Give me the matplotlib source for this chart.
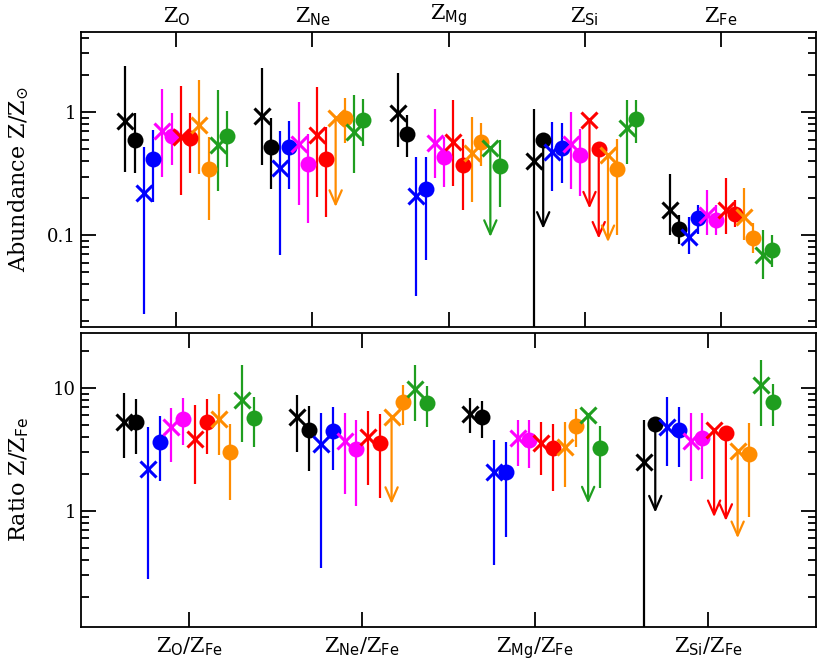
import numpy as np
import matplotlib
matplotlib.use('Agg')
import matplotlib.pyplot as plt

plt.rcParams['font.family'] = 'DejaVu Serif'
plt.rcParams['mathtext.fontset'] = 'dejavuserif'

# series order inside each group: x marker, then circle, per colour
colors = ['black', 'black', '#0000ff', '#0000ff', '#ff00ff', '#ff00ff',
          '#ff0000', '#ff0000', '#ff8c00', '#ff8c00', '#1f9e1f', '#1f9e1f']
markers = ['x', 'o'] * 6

# Abundances Z/Zsun (top panel), one row per element
top_labels = [r'$\mathrm{Z}_{\mathsf{O}}$', r'$\mathrm{Z}_{\mathsf{Ne}}$', r'$\mathrm{Z}_{\mathsf{Mg}}$',
              r'$\mathrm{Z}_{\mathsf{Si}}$', r'$\mathrm{Z}_{\mathsf{Fe}}$']
abund = [
    [0.855, 0.60, 0.219, 0.419, 0.709, 0.645, 0.63, 0.614, 0.788, 0.343, 0.542, 0.645],
    [0.93, 0.525, 0.354, 0.522, 0.552, 0.377, 0.654, 0.414, 0.894, 0.905, 0.696, 0.866],
    [0.994, 0.666, 0.208, 0.237, 0.559, 0.435, 0.576, 0.37, 0.469, 0.569, 0.509, 0.368],
    [0.404, 0.595, 0.478, 0.515, 0.552, 0.449, 0.866, 0.50, 0.449, 0.343, 0.74, 0.882],
    [0.162, 0.113, 0.097, 0.139, 0.146, 0.133, 0.162, 0.15, 0.141, 0.096, 0.0697, 0.0755],
]
abund_hi = [
    [2.38, 0.98, 0.525, 0.718, 1.54, 0.99, 1.64, 0.99, 1.83, 0.626, 1.52, 1.03],
    [2.28, 0.89, 0.71, 0.85, 1.2, 0.666, 1.6, 0.755, None, 1.3, 1.38, 1.28],
    [2.08, 0.95, 0.43, 0.43, 1.06, 0.634, 1.26, 0.603, 0.91, 0.814, None, 0.595],
    [1.06, None, 0.84, 0.82, 1.0, 0.727, None, None, None, 0.603, 1.26, 1.26],
    [0.314, 0.146, 0.141, 0.176, 0.232, 0.176, 0.29, 0.193, 0.243, 0.125, 0.111, 0.10],
]
# lower end of bar, or arrow tip for upper limits (where abund_hi is None)
abund_lo = [
    [0.328, 0.318, 0.0231, 0.188, 0.299, 0.375, 0.212, 0.318, 0.315, 0.133, 0.227, 0.36],
    [0.372, 0.236, 0.0686, 0.24, 0.176, 0.125, 0.205, 0.141, 0.17, 0.566, 0.318, 0.535],
    [0.525, 0.435, 0.0324, 0.0633, 0.29, 0.245, 0.251, 0.162, 0.185, 0.368, 0.097, 0.17],
    [1e-4, 0.113, 0.23, 0.264, 0.24, 0.208, 0.165, 0.094, 0.088, 0.10, 0.379, 0.559],
    [0.10, 0.0855, 0.071, 0.103, 0.10, 0.10, 0.103, 0.117, 0.092, 0.072, 0.044, 0.0548],
]

# Ratios Z/ZFe (bottom panel)
bot_labels = [r'$\mathrm{Z}_{\mathsf{O}}/\mathrm{Z}_{\mathsf{Fe}}$', r'$\mathrm{Z}_{\mathsf{Ne}}/\mathrm{Z}_{\mathsf{Fe}}$',
              r'$\mathrm{Z}_{\mathsf{Mg}}/\mathrm{Z}_{\mathsf{Fe}}$', r'$\mathrm{Z}_{\mathsf{Si}}/\mathrm{Z}_{\mathsf{Fe}}$']
ratio = [
    [5.3, 5.3, 2.18, 3.64, 4.79, 5.56, 3.87, 5.32, 5.6, 3.02, 7.98, 5.7],
    [5.78, 4.55, 3.51, 4.47, 3.73, 3.19, 4.02, 3.6, 5.85, 7.64, 9.8, 7.5],
    [6.16, 5.85, 2.06, 2.06, 3.9, 3.78, 3.6, 3.23, 3.33, 4.94, 6.04, 3.23],
    [2.52, 5.1, 4.85, 4.55, 3.73, 3.94, 4.55, 4.28, 3.09, 2.9, 10.6, 7.76],
]
ratio_hi = [
    [9.02, 8.09, 4.79, 5.96, 6.83, 8.25, 7.23, 8.2, 8.94, 5.1, 15.4, 8.5],
    [8.78, 7.1, 6.22, 6.96, 6.22, 5.5, 6.55, 6.15, None, 10.6, 15.4, 10.4],
    [8.25, 7.9, 3.78, 3.66, 5.5, 5.5, 5.26, 5.1, 5.32, 6.7, None, 4.91],
    [5.5, None, 8.4, 6.96, 6.22, 6.22, None, None, None, 5.17, 16.9, 10.7],
]
ratio_lo = [
    [2.71, 2.9, 0.278, 1.75, 2.52, 3.44, 1.66, 2.9, 2.85, 1.23, 3.66, 3.33],
    [3.0, 2.13, 0.346, 2.15, 1.37, 1.1, 1.63, 1.27, 1.14, 5.0, 5.42, 4.85],
    [4.28, 3.9, 0.364, 0.618, 2.32, 2.22, 1.97, 1.46, 1.56, 3.33, 1.15, 1.53],
    [1e-4, 0.97, 2.34, 2.29, 1.76, 1.82, 0.89, 0.83, 0.6, 0.89, 4.94, 4.91],
]

step = 0.068
offsets = (np.arange(12) - 5.5) * step


def draw_panel(ax, vals, his, los):
    for g in range(len(vals)):
        for i in range(12):
            x = g + 1 + offsets[i]
            v, hi, lo = vals[g][i], his[g][i], los[g][i]
            c = colors[i]
            if hi is None:
                ax.annotate('', xy=(x, lo), xytext=(x, v),
                            arrowprops=dict(arrowstyle='->, head_length=0.5, head_width=0.22',
                                            color=c, lw=1.6, shrinkA=0, shrinkB=0,
                                            mutation_scale=20), zorder=2)
            else:
                ax.plot([x, x], [lo, hi], color=c, lw=1.6, zorder=2, solid_capstyle='butt')
            if markers[i] == 'o':
                ax.plot(x, v, 'o', color=c, ms=11.5, mew=0, zorder=3)
            else:
                ax.plot(x, v, 'x', color=c, ms=11.5, mew=2.2, zorder=3)


fig = plt.figure(figsize=(8.18, 6.62), dpi=100)
ax1 = fig.add_axes([0.099, 0.506, 0.899, 0.446])
ax2 = fig.add_axes([0.099, 0.053, 0.899, 0.444])

draw_panel(ax1, abund, abund_hi, abund_lo)
draw_panel(ax2, ratio, ratio_hi, ratio_lo)

for ax in (ax1, ax2):
    ax.set_yscale('log')
    ax.tick_params(which='both', direction='in', top=True, right=True, width=1.3, labelsize=13)
    ax.tick_params(which='major', length=11)
    ax.tick_params(which='minor', length=6)
    for s in ax.spines.values():
        s.set_linewidth(1.3)

ax1.set_xlim(0.3, 5.7)
ax1.set_ylim(0.018, 4.5)
ax1.set_xticks(range(1, 6))
ax1.set_xticklabels(top_labels, fontsize=15)
ax1.tick_params(axis='x', labeltop=True, labelbottom=False, pad=3)
ax1.set_yticks([0.1, 1])
ax1.set_yticklabels(['0.1', '1'])
ax1.set_ylabel(r'Abundance $\mathrm{Z}/\mathrm{Z}_{\odot}$', fontsize=16)

ax2.set_xlim(0.375, 4.625)
ax2.set_ylim(0.114, 28)
ax2.set_xticks(range(1, 5))
ax2.set_xticklabels(bot_labels, fontsize=15)
ax2.tick_params(axis='x', pad=6)
ax2.set_yticks([1, 10])
ax2.set_yticklabels(['1', '10'])
ax2.set_ylabel(r'Ratio $\mathrm{Z}/\mathrm{Z}_{\mathsf{Fe}}$', fontsize=16)

ax1.yaxis.set_label_coords(-0.068, 0.5)
ax2.yaxis.set_label_coords(-0.068, 0.5)

fig.savefig('out.png', dpi=100)
